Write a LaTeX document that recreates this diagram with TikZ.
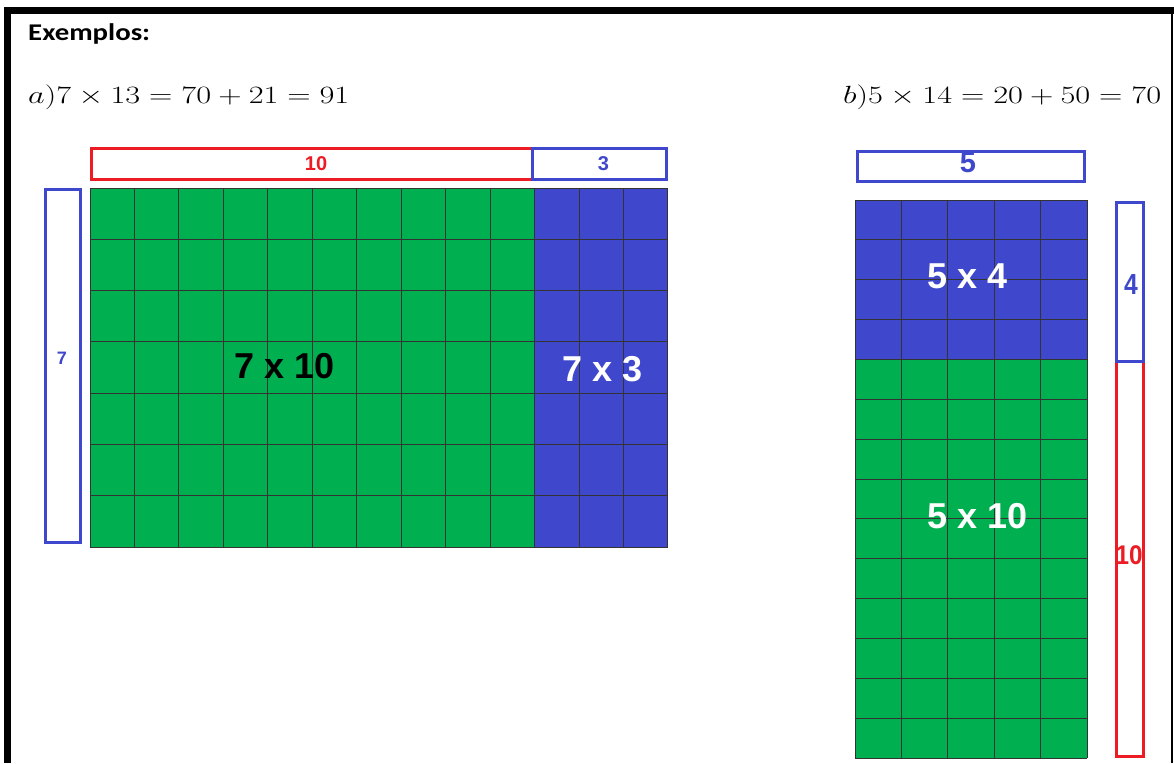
\documentclass[tikz,border=0pt]{standalone}
\usepackage{fontspec}
\setmainfont{Liberation Sans}
\newfontfamily\calib{Carlito}
\definecolor{gr}{RGB}{0,176,80}
\definecolor{bl}{RGB}{63,72,204}
\definecolor{rd}{RGB}{237,28,36}
\begin{document}
\begin{tikzpicture}[x=1pt,y=-1pt,
  cell/.style={draw=black!80,line width=1pt},
  lbox/.style={line width=3pt},
  small/.style={font=\bfseries\fontsize{20}{22}\selectfont,inner sep=0pt},
  mid/.style={font=\bfseries\fontsize{29}{32}\selectfont,inner sep=0pt},
  big/.style={font=\bfseries\fontsize{36}{40}\selectfont,inner sep=0pt},
  eq/.style={font=\fontsize{29.5}{32}\selectfont,anchor=base west,inner sep=0pt}]
\useasboundingbox (0,0) rectangle (1174,763);
\fill[white] (0,0) rectangle (1174,763);
% frame
\fill[black] (4,7) rectangle (1174,14);
\fill[black] (4,7) rectangle (11,763);
\fill[black] (1171,7) rectangle (1173,763);
% headings
\node[anchor=west,inner sep=0pt,font=\calib\bfseries\fontsize{24}{26}\selectfont] (ex) at (28,34) {\scalebox{1.2}[1]{Exemplos:}};
\node[eq] (eqa) at (28,103) {\scalebox{1.3}[1]{$a)7\times 13=70+21=91$}};
\node[eq] (eqb) at (843,103) {\scalebox{1.3}[1]{$b)5\times 14=20+50=70$}};
% grid a
\fill[gr] (90,188) rectangle (534.6,547);
\fill[bl] (534.6,188) rectangle (668,547);
\foreach \i in {0,...,13} \draw[cell] ({90+\i*44.46},188) -- ({90+\i*44.46},547);
\foreach \j in {0,...,7} \draw[cell] (90,{188+\j*51.29}) -- (668,{188+\j*51.29});
\node[big,text=black] (a10) at (285,366) {7 x 10};
\node[big,text=white] (a3) at (603,369) {7 x 3};
% boxes a
\draw[lbox,draw=rd] (91.5,148.5) rectangle (532,179.5);
\node[small,text=rd] (l10) at (316,164) {10};
\draw[lbox,draw=bl] (532,148.5) rectangle (666.5,179.5);
\node[small,text=bl] (l3) at (603.5,164) {3};
\draw[lbox,draw=bl] (45.5,189.5) rectangle (80.5,542.5);
\node[small,text=bl,font=\bfseries\fontsize{18}{20}\selectfont] (l7) at (62,358) {7};
% grid b
\fill[bl] (855,200) rectangle (1087,359.6);
\fill[gr] (855,359.6) rectangle (1087,758);
\foreach \i in {0,...,5} \draw[cell] ({855+\i*46.4},200) -- ({855+\i*46.4},758);
\foreach \j in {0,...,14} \draw[cell] (855,{200+\j*39.86}) -- (1087,{200+\j*39.86});
\node[big,text=white] (b4) at (968,276) {5 x 4};
\node[big,text=white] (b10) at (978,516) {5 x 10};
% boxes b
\draw[lbox,draw=bl] (857,151.5) rectangle (1084,181.5);
\node[mid,text=bl] (l5) at (968,163) {5};
\draw[lbox,draw=rd] (1116.5,361) rectangle (1143.5,756.5);
\draw[lbox,draw=bl] (1116.5,202.5) rectangle (1143.5,361);
\node[mid,text=bl] (l4) at (1131,285) {\scalebox{0.85}[1]{4}};
\node[text=rd,font=\bfseries\fontsize{27}{30}\selectfont,inner sep=0pt] (l10b) at (1129,555) {\scalebox{0.9}[1]{10}};
\end{tikzpicture}
\end{document}
